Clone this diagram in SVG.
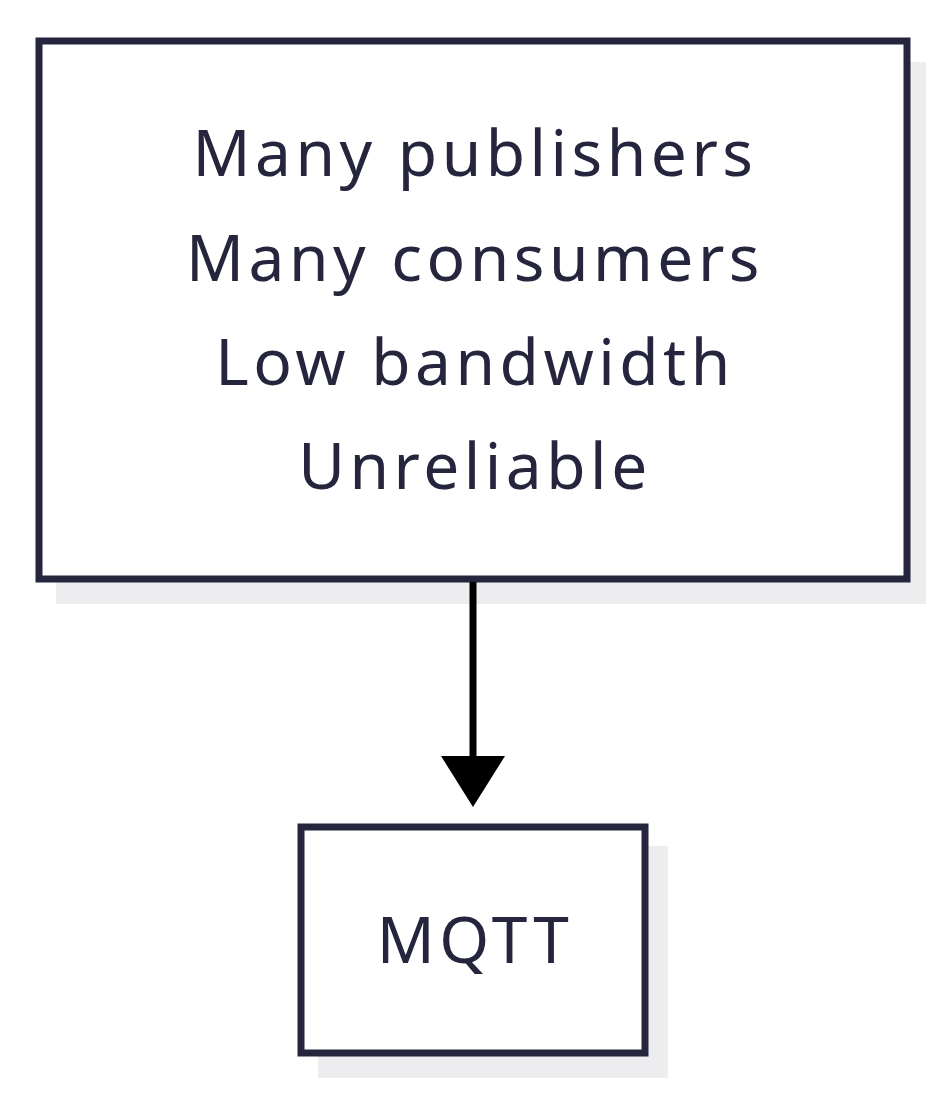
<svg xmlns="http://www.w3.org/2000/svg" width="946" height="1094" viewBox="0 0 946 1094">
<style>
.box{fill:#fff;stroke:#25253d;stroke-width:7}
.sh{fill:#ededf0}
.t{font-family:"Noto Sans","Open Sans",sans-serif;font-size:64px;fill:#25253d;text-anchor:middle;letter-spacing:4.5px}
</style>
<rect width="946" height="1094" fill="#fff"/>
<g id="top">
<rect class="sh" x="56" y="62" width="870" height="542"/>
<rect class="box" x="39" y="41" width="868" height="538"/>
<text class="t" x="475" y="176">Many publishers</text>
<text class="t" x="475" y="281">Many consumers</text>
<text class="t" x="475" y="385">Low bandwidth</text>
<text class="t" x="475" y="489">Unreliable</text>
</g>
<g id="connectors">
<line x1="473" y1="582" x2="473" y2="760" stroke="#000" stroke-width="7"/>
<polygon points="441,756 505,756 473,807" fill="#000"/>
</g>
<g id="mqtt">
<rect class="sh" x="318" y="846" width="350" height="232"/>
<rect class="box" x="301" y="827" width="344" height="226"/>
<text class="t" x="475" y="963">MQTT</text>
</g>
</svg>
